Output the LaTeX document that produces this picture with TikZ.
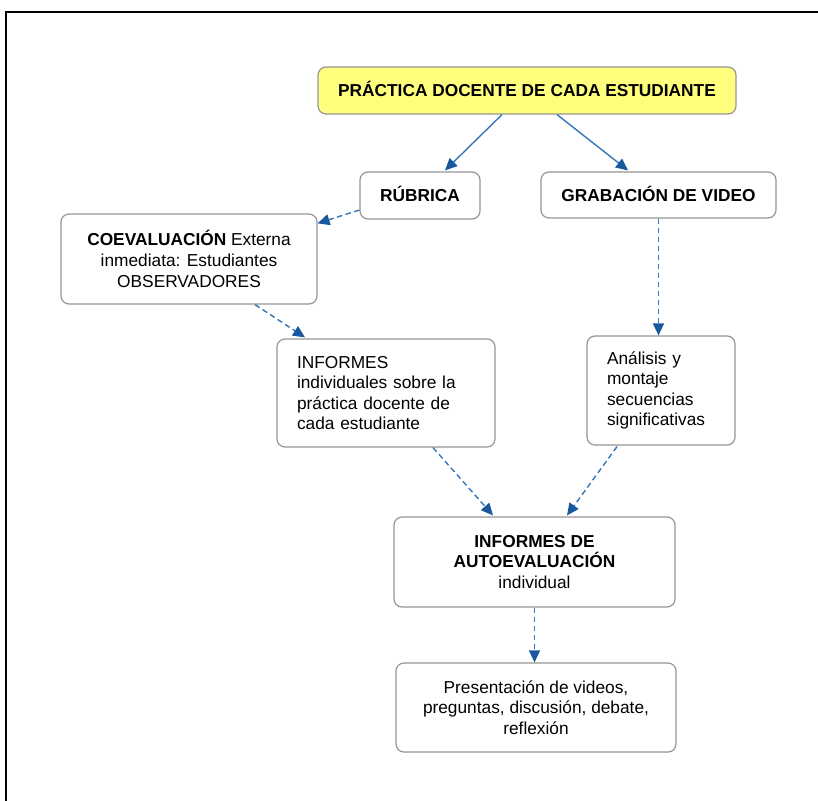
\documentclass[tikz,border=0pt]{standalone}
\usepackage{fontspec}
\setmainfont{Liberation Sans}
\usetikzlibrary{arrows.meta,calc}
\definecolor{boxline}{RGB}{150,150,150}
\definecolor{titlefill}{RGB}{255,255,125}
\definecolor{linkblue}{RGB}{52,118,186}
\definecolor{tipblue}{RGB}{24,88,158}
\begin{document}
\begin{tikzpicture}[x=1pt,y=-1pt,
  every node/.style={font=\fontsize{17.3}{20.6}\selectfont},
  box/.style={draw=boxline,line width=1.2pt,rounded corners=8pt,fill=white,
    inner sep=0pt,align=center},
  oneline/.style={text height=12.4pt,text depth=0pt},
  link/.style={draw=linkblue,line width=1.4pt,
    -{Triangle[length=12pt,width=11pt,color=tipblue]}},
  dlink/.style={link,dash pattern=on 5.5pt off 3.5pt}]
\useasboundingbox (0,0) rectangle (818,800);

% outer frame (top and left edges)
\draw[line width=2pt,line cap=rect] (6,800) -- (6,12) -- (818,12);

% boxes
\node[box,oneline,fill=titlefill,minimum width=418pt,minimum height=47pt] (prac) at (527,90.5)
  {\textbf{PRÁCTICA DOCENTE DE CADA ESTUDIANTE}};
\node[box,oneline,minimum width=120pt,minimum height=47pt] (rub) at (420,195.5)
  {\textbf{RÚBRICA}};
\node[box,oneline,minimum width=235pt,minimum height=46pt] (grab) at (658.5,195)
  {\textbf{GRABACIÓN DE VIDEO}};
\node[box,minimum width=256pt,minimum height=90pt] (coev) at (189,259)
  {\textbf{COEVALUACIÓN} Externa\\inmediata: Estudiantes\\OBSERVADORES};
\node[box,align=left,text width=178pt,inner xsep=20pt,minimum height=108pt] (inf) at (386,393)
  {INFORMES\\individuales sobre la\\práctica docente de\\cada estudiante};
\node[box,align=left,text width=108pt,inner xsep=20pt,minimum height=109pt] (anal) at (661,390.5)
  {Análisis y\\montaje\\secuencias\\significativas};
\node[box,minimum width=281pt,minimum height=90pt] (auto) at (534.5,562)
  {\textbf{INFORMES DE}\\\textbf{AUTOEVALUACIÓN}\\individual};
\node[box,minimum width=280pt,minimum height=89pt] (pres) at (536,707.5)
  {Presentación de videos,\\preguntas, discusión, debate,\\reflexión};

% connectors
\draw[link] ($(prac.south)+(-25,0)$) -- ($(rub.north)+(25,-1)$);
\draw[link] ($(prac.south)+(30,0)$) -- ($(grab.north)+(-30.5,-1)$);
\draw[dlink] ($(rub.west)+(0,14.5)$) -- ($(coev.north east)+(0,10)$);
\draw[dlink] (grab.south) -- (grab.south |- anal.north);
\draw[dlink] ($(coev.south)+(66,0)$) -- ($(inf.north)+(-81,-1)$);
\draw[dlink] ($(inf.south)+(47,0)$) -- ($(auto.north)+(-41.5,-1)$);
\draw[dlink] ($(anal.south)+(-44,1)$) -- ($(auto.north)+(32.5,-1)$);
\draw[dlink] (auto.south) -- (auto.south |- pres.north);
\end{tikzpicture}
\end{document}
